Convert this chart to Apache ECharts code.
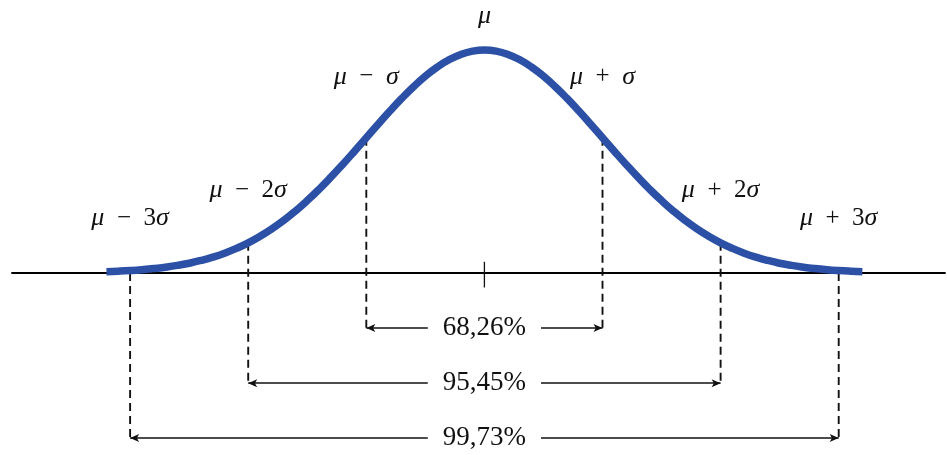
<!DOCTYPE html>
<html>
<head>
<meta charset="utf-8">
<script src="https://cdn.jsdelivr.net/npm/echarts@6/dist/echarts.min.js"></script>
<style>
  html, body { margin: 0; padding: 0; background: #fff; }
  #chart { width: 947px; height: 455px; }
</style>
</head>
<body>
<div id="chart"></div>
<script>
// Standard normal curve (peak scaled to 1), in units of sigma from the mean
const curveX = [-3.2, -3.1, -3.0, -2.9, -2.8, -2.7, -2.6, -2.5, -2.4, -2.3, -2.2, -2.1, -2.0, -1.9, -1.8, -1.7,
  -1.6, -1.5, -1.4, -1.3, -1.2, -1.1, -1.0, -0.9, -0.8, -0.7, -0.6, -0.5, -0.4, -0.3, -0.2, -0.1,
  0, 0.1, 0.2, 0.3, 0.4, 0.5, 0.6, 0.7, 0.8, 0.9, 1.0, 1.1, 1.2, 1.3, 1.4, 1.5,
  1.6, 1.7, 1.8, 1.9, 2.0, 2.1, 2.2, 2.3, 2.4, 2.5, 2.6, 2.7, 2.8, 2.9, 3.0, 3.1, 3.2];
const curveY = [0.0060, 0.0082, 0.0111, 0.0149, 0.0198, 0.0261, 0.0340, 0.0439, 0.0561, 0.0710, 0.0889, 0.1103, 0.1353, 0.1645, 0.1979, 0.2357,
  0.2780, 0.3247, 0.3753, 0.4296, 0.4868, 0.5461, 0.6065, 0.6670, 0.7261, 0.7827, 0.8353, 0.8825, 0.9231, 0.9560, 0.9802, 0.9950,
  1.0000, 0.9950, 0.9802, 0.9560, 0.9231, 0.8825, 0.8353, 0.7827, 0.7261, 0.6670, 0.6065, 0.5461, 0.4868, 0.4296, 0.3753, 0.3247,
  0.2780, 0.2357, 0.1979, 0.1645, 0.1353, 0.1103, 0.0889, 0.0710, 0.0561, 0.0439, 0.0340, 0.0261, 0.0198, 0.0149, 0.0111, 0.0082, 0.0060];

// Marked positions along the axis and their labels
const markSigma = [-3, -2, -1, 0, 1, 2, 3];
const markText = [
  '{i|μ}\u2002−\u20023{i|σ}', '{i|μ}\u2002−\u20022{i|σ}', '{i|μ}\u2002−\u2002{i|σ}', '{i|μ}',
  '{i|μ}\u2002+\u2002{i|σ}', '{i|μ}\u2002+\u20022{i|σ}', '{i|μ}\u2002+\u20023{i|σ}'
];

// Probability bands: mean ± k sigma
const bandSigma = [1, 2, 3];
const bandShare = ['68,26%', '95,45%', '99,73%'];

// Layout (data units on the y scale)
const markLabelY = [0.245, 0.37, 0.88, 1.15, 0.88, 0.37, 0.245];
const bandRowY = [-0.247, -0.494, -0.74];

const INK = '#111';
const FONT = 'Liberation Serif';

function curveAt(x) {
  const i = curveX.findIndex(v => Math.abs(v - x) < 1e-9);
  return curveY[i];
}

const series = [];

// dashed guides from the curve down to each band's arrow row
bandSigma.forEach((k, r) => {
  [-k, k].forEach(x => {
    series.push({
      type: 'line',
      data: [[x, k === 3 ? 0 : curveAt(x)], [x, bandRowY[r]]],
      symbol: 'none',
      silent: true,
      lineStyle: { color: INK, width: 1.9, type: [8, 5] },
      z: 2
    });
  });
});

// small tick at the mean
series.push({
  type: 'line',
  data: [[0, 0.05], [0, -0.065]],
  symbol: 'none',
  silent: true,
  lineStyle: { color: INK, width: 1.3 },
  z: 2
});

// the bell curve
series.push({
  type: 'line',
  data: curveX.map((x, i) => [x, curveY[i]]),
  smooth: true,
  symbol: 'none',
  silent: true,
  lineStyle: { color: '#2b50a6', width: 7.5, cap: 'butt' },
  z: 5
});

// double arrows spanning each band
series.push({
  type: 'line',
  data: [],
  silent: true,
  z: 3,
  markLine: {
    silent: true,
    symbol: ['arrow', 'arrow'],
    symbolSize: [6, 9],
    lineStyle: { color: INK, width: 1.6, type: 'solid' },
    label: { show: false },
    data: bandSigma.map((k, r) => [
      { coord: [-k, bandRowY[r]] },
      { coord: [k, bandRowY[r]] }
    ])
  }
});

// band shares, set over the middle of each arrow
series.push({
  type: 'scatter',
  data: bandSigma.map((k, r) => ({ value: [0, bandRowY[r]], text: bandShare[r] })),
  symbolSize: 0,
  silent: true,
  z: 10,
  itemStyle: { opacity: 1 },
  label: {
    show: true,
    position: 'inside',
    color: INK,
    fontFamily: FONT,
    fontSize: 27,
    backgroundColor: '#fff',
    padding: [0, 15],
    textBorderWidth: 0,
    formatter: p => p.data.text
  }
});

// position labels
series.push({
  type: 'scatter',
  data: markSigma.map((x, i) => ({ value: [x, markLabelY[i]], text: markText[i] })),
  symbolSize: 0,
  silent: true,
  z: 10,
  itemStyle: { opacity: 1 },
  label: {
    show: true,
    position: 'inside',
    color: INK,
    fontFamily: FONT,
    fontSize: 25,
    textBorderWidth: 0,
    formatter: p => p.data.text,
    rich: {
      i: { fontStyle: 'italic', fontFamily: FONT, fontSize: 26, color: INK, textBorderWidth: 0 }
    }
  }
});

const chart = echarts.init(document.getElementById('chart'), null, { renderer: 'canvas' });
chart.setOption({
  animation: false,
  backgroundColor: '#fff',
  grid: { left: 12, right: 2, top: 5.4, bottom: 3.6 },
  xAxis: {
    type: 'value',
    min: -4.0,
    max: 3.9,
    axisLine: { show: true, onZero: true, lineStyle: { color: '#000', width: 1.8 } },
    axisTick: { show: false },
    axisLabel: { show: false },
    splitLine: { show: false }
  },
  yAxis: {
    type: 'value',
    min: -0.8,
    max: 1.2,
    show: false,
    splitLine: { show: false }
  },
  series
});
</script>
</body>
</html>
